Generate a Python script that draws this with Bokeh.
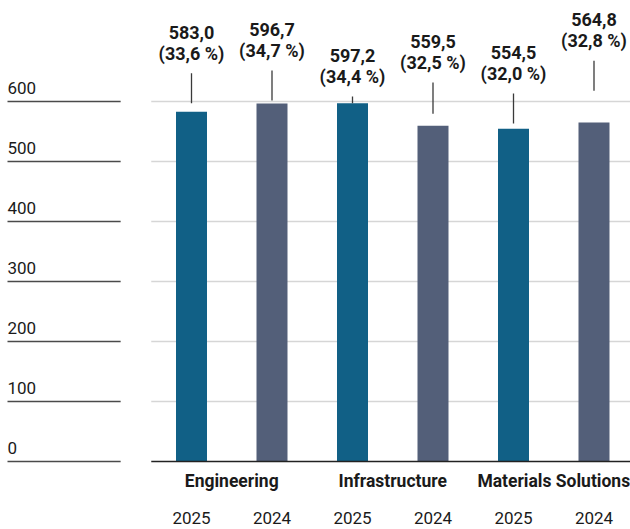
from bokeh.plotting import figure
from bokeh.models import Range1d, ColumnDataSource
from bokeh.core.properties import value
from bokeh.embed import file_html
from bokeh.resources import INLINE

# ---- data ----
segments = ["Engineering", "Infrastructure", "Materials Solutions"]
years = ["2025", "2024"]
values = [583.0, 596.7, 597.2, 559.5, 554.5, 564.8]
shares = [33.6, 34.7, 34.4, 32.5, 32.0, 32.8]
y_ticks = [0, 100, 200, 300, 400, 500, 600]
# label leader layout (data units): gap above bar top, leader length
leader_gap = [14, 5, 0, 20, 9, 53]
leader_len = [50, 50, 11, 52, 50, 50]

COL = {"2025": "#116086", "2024": "#535f79"}
FONT = value("Roboto")
TXT = "#1a1a1a"

W, H = 630, 529
SLOT = 80.5          # px per bar slot
X_FIRST = 191        # px of first bar centre
Y_ZERO = 461         # px of value 0
PX_PER_UNIT = 0.6
x0, x1 = -X_FIRST / SLOT, (W - X_FIRST) / SLOT
y0, y1 = (Y_ZERO - H) / PX_PER_UNIT, Y_ZERO / PX_PER_UNIT
px_y = 1 / PX_PER_UNIT
px_x = 1 / SLOT

p = figure(width=W, height=H, x_range=Range1d(x0, x1), y_range=Range1d(y0, y1),
           output_backend="svg", toolbar_location=None, min_border=0,
           x_axis_location=None, y_axis_location=None,
           outline_line_color=None, background_fill_color="white")
p.grid.visible = False

n = len(values)
xs = list(range(n))
bar_years = [years[i % 2] for i in range(n)]
bar_colors = [COL[y] for y in bar_years]

# gridlines (plot area) and left tick rules
grid_ticks = [t for t in y_ticks if t != 0]
p.segment(x0=[-0.5] * len(grid_ticks), x1=[x1] * len(grid_ticks), y0=grid_ticks, y1=grid_ticks,
          line_color="#d6d6d6", line_width=1.5)
p.segment(x0=[x0 + 7 * px_x] * len(y_ticks), x1=[-0.88] * len(y_ticks), y0=y_ticks, y1=y_ticks,
          line_color="#4a4a4a", line_width=1.4)
p.text(x=[x0 + 7 * px_x] * len(y_ticks), y=[t + 14 * px_y for t in y_ticks],
       text=[str(t) for t in y_ticks], text_font=FONT, text_font_size="17px",
       text_color=TXT, text_align="left", text_baseline="middle")

# bars
src = ColumnDataSource(dict(x=xs, top=values, color=bar_colors))
p.vbar(x="x", top="top", bottom=0, width=0.385, fill_color="color", line_color=None, source=src)

# baseline
p.segment(x0=[-0.5], x1=[x1], y0=[0], y1=[0], line_color="#222222", line_width=1.5)

# leaders and value labels
lb = [v + g for v, g in zip(values, leader_gap)]
lt = [b + l for b, l in zip(lb, leader_len)]
p.segment(x0=xs, x1=xs, y0=lb, y1=lt, line_color="#3a3a3a", line_width=1.3)
val_txt = [f"{v:.1f}".replace(".", ",") for v in values]
pct_txt = [f"({s:.1f} %)".replace(".", ",") for s in shares]
p.text(x=xs, y=[t + 20 * px_y for t in lt], text=pct_txt, text_font=FONT, text_font_size="18px",
       text_font_style="bold", text_color=TXT, text_align="center", text_baseline="middle")
p.text(x=xs, y=[t + 41 * px_y for t in lt], text=val_txt, text_font=FONT, text_font_size="18px",
       text_font_style="bold", text_color=TXT, text_align="center", text_baseline="middle")

# category and year labels
seg_x = [2 * i + 0.5 for i in range(len(segments))]
p.text(x=seg_x, y=[-19 * px_y] * len(segments), text=segments, text_font=FONT, text_font_size="17.5px",
       text_font_style="bold", text_color=TXT, text_align="center", text_baseline="middle")
p.text(x=xs, y=[-56 * px_y] * n, text=bar_years, text_font=FONT, text_font_size="17px",
       text_color=TXT, text_align="center", text_baseline="middle")

open("out.html", "w").write(file_html(p, INLINE))
